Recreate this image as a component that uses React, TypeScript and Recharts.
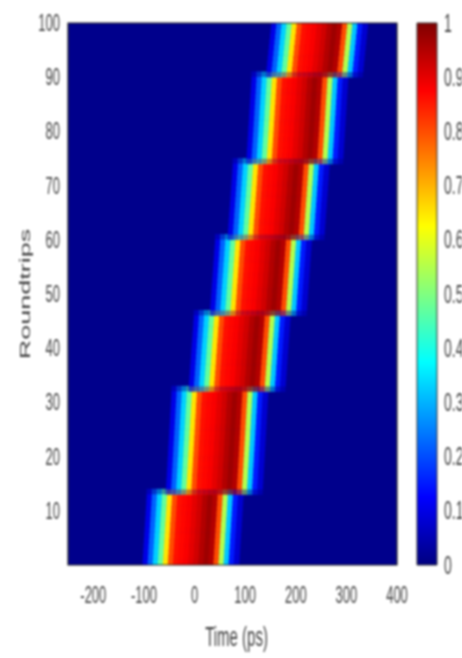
import React from 'react';
import {
  ScatterChart,
  Scatter,
  XAxis,
  YAxis,
  CartesianGrid,
  ReferenceArea,
  BarChart,
  Bar,
} from 'recharts';

// ---------- data ----------
const xTicks = [-200, -100, 0, 100, 200, 300, 400];
const yTicks = [10, 20, 30, 40, 50, 60, 70, 80, 90, 100];
const cbTicks = [0, 0.1, 0.2, 0.3, 0.4, 0.5, 0.6, 0.7, 0.8, 0.9, 1];
const xDomain = [-250, 400];
const yDomain = [0, 100];

// pulse segments: roundtrip ranges and pulse centre (ps) at the start / end of each
const segStart = [0, 13, 32, 46, 60, 74, 90];
const segEnd = [13, 32, 46, 60, 74, 90, 100];
const centerStart = [-7, 39, 84, 126, 161, 198, 237];
const centerEnd = [1, 50, 94, 136, 171, 208, 247];

// normalised intensity across the pulse (offset from centre, ps)
const profileOffset = [-90, -80, -70, -60, -50, -40, -30, -20, -10, 0, 10, 20, 30, 40, 50, 60, 70, 80, 90];
const profileValue = [0.1, 0.22, 0.33, 0.47, 0.65, 0.8, 0.86, 0.87, 0.88, 0.9, 0.92, 0.95, 0.97, 0.95, 0.8, 0.55, 0.32, 0.15, 0.08];
const DT = 10; // ps width of one cell
const DR = 1; // roundtrips per row

// ---------- build table for the library ----------
type HeatCell = { t: number; r: number; v: number; o: number };
const cells: HeatCell[] = [];
segStart.forEach((s, k) => {
  const e = segEnd[k];
  for (let i = s; i < e; i++) {
    const frac = (i - s) / Math.max(1, e - s - 1);
    const c = centerStart[k] + (centerEnd[k] - centerStart[k]) * frac;
    const boundary = k > 0 && i === s;
    if (boundary) {
      profileOffset.forEach((off, j) =>
        cells.push({ t: centerEnd[k - 1] + off, r: i + DR / 2, v: profileValue[j], o: 0.55 })
      );
    }
    profileOffset.forEach((off, j) =>
      cells.push({ t: c + off, r: i + DR / 2, v: profileValue[j], o: boundary ? 0.55 : 1 })
    );
  }
});

const cbData = [{ k: 'c', v: 1 }];

// ---------- styling ----------
const W = 462;
const H = 658;
const MARGIN = { top: 23, right: 65, bottom: 33, left: 28 };
const Y_AXIS_W = 40;
const X_AXIS_H = 60;
const PLOT_W = W - MARGIN.left - MARGIN.right - Y_AXIS_W;
const PLOT_H = H - MARGIN.top - MARGIN.bottom - X_AXIS_H;
const SY = 1.8;
const FONT = "'Liberation Sans', Arial, sans-serif";
const TEXT = '#444';
const BG = 'rgb(0,0,140)';

const clamp = (x: number) => Math.max(0, Math.min(1, x));
const jet = (v: number) => {
  const r = clamp(1.5 - Math.abs(4 * v - 3));
  const g = clamp(1.5 - Math.abs(4 * v - 2));
  const b = clamp(1.5 - Math.abs(4 * v - 1));
  return `rgb(${Math.round(r * 255)},${Math.round(g * 255)},${Math.round(b * 255)})`;
};

const CellShape = (props: any) => {
  const { cx, cy, payload, xAxis, yAxis } = props;
  if (cx == null || cy == null) return null;
  let w = (PLOT_W * DT) / (xDomain[1] - xDomain[0]);
  let h = (PLOT_H * DR) / (yDomain[1] - yDomain[0]);
  if (xAxis && typeof xAxis.scale === 'function') {
    w = Math.abs(xAxis.scale(payload.t + DT / 2) - xAxis.scale(payload.t - DT / 2)) || w;
  }
  if (yAxis && typeof yAxis.scale === 'function') {
    h = Math.abs(yAxis.scale(payload.r + DR / 2) - yAxis.scale(payload.r - DR / 2)) || h;
  }
  return (
    <rect
      x={cx - w / 2 - 0.3}
      y={cy - h / 2 - 0.3}
      width={w + 0.6}
      height={h + 0.6}
      fill={jet(payload.v)}
      fillOpacity={payload.o}
    />
  );
};

const XTick = (props: any) => {
  const { x, y, payload } = props;
  return (
    <g transform={`translate(${x},${y}) scale(1,${SY})`}>
      <text x={0} y={0} textAnchor="middle" dominantBaseline="central" fontSize={13} fontFamily={FONT} fill={TEXT}>
        {payload.value}
      </text>
    </g>
  );
};

const YTick = (props: any) => {
  const { x, y, payload } = props;
  return (
    <g transform={`translate(${x},${y}) scale(1,${SY})`}>
      <text x={0} y={0} textAnchor="end" dominantBaseline="central" fontSize={13} fontFamily={FONT} fill={TEXT}>
        {payload.value}
      </text>
    </g>
  );
};

const CbTick = (props: any) => {
  const { x, y, payload } = props;
  return (
    <g transform={`translate(${x},${y}) scale(1,${SY})`}>
      <text x={0} y={0} textAnchor="start" dominantBaseline="central" fontSize={14} fontFamily={FONT} fill={TEXT}>
        {String(payload.value)}
      </text>
    </g>
  );
};

const XLabel = (props: any) => {
  const vb = props.viewBox || { x: MARGIN.left + Y_AXIS_W, y: MARGIN.top + PLOT_H, width: PLOT_W };
  const cx = vb.x + vb.width / 2 + 4;
  const cy = vb.y + 72;
  return (
    <g transform={`translate(${cx},${cy}) scale(1,${SY})`}>
      <text x={0} y={0} textAnchor="middle" dominantBaseline="central" fontSize={15} fontFamily={FONT} fill={TEXT}>
        Time (ps)
      </text>
    </g>
  );
};

const YLabel = (props: any) => {
  const vb = props.viewBox || { x: MARGIN.left, y: MARGIN.top, height: PLOT_H };
  const cx = vb.x - 3;
  const cy = vb.y + vb.height / 2;
  return (
    <g transform={`translate(${cx},${cy}) scale(1,${SY}) rotate(-90)`}>
      <text x={0} y={0} textAnchor="middle" dominantBaseline="central" fontSize={15} fontFamily={FONT} fill={TEXT}>
        Roundtrips
      </text>
    </g>
  );
};

export default function App() {
  return (
    <div
      style={{
        position: 'absolute',
        left: 0,
        top: 0,
        width: W,
        height: H,
        background: '#fff',
        filter: 'blur(1px)',
      }}
    >
      <div style={{ position: 'absolute', left: 0, top: 0 }}>
        <ScatterChart width={W} height={H} margin={MARGIN}>
          <CartesianGrid fill={BG} fillOpacity={1} horizontal={false} vertical={false} />
          <XAxis
            type="number"
            dataKey="t"
            domain={xDomain}
            ticks={xTicks}
            allowDataOverflow
            height={X_AXIS_H}
            axisLine={false}
            tickLine={false}
            tickSize={0}
            tickMargin={30}
            tick={<XTick />}
            interval={0}
            label={{ content: (p: any) => <XLabel {...p} /> }}
          />
          <YAxis
            type="number"
            dataKey="r"
            domain={yDomain}
            ticks={yTicks}
            allowDataOverflow
            width={Y_AXIS_W}
            axisLine={false}
            tickLine={false}
            tickSize={0}
            tickMargin={8}
            tick={<YTick />}
            interval={0}
            label={{ content: (p: any) => <YLabel {...p} /> }}
          />
          <Scatter data={cells} shape={(p: any) => <CellShape {...p} />} isAnimationActive={false} />
          <ReferenceArea
            x1={xDomain[0]}
            x2={xDomain[1]}
            y1={yDomain[0]}
            y2={yDomain[1]}
            fill="none"
            stroke="#222"
            strokeWidth={1.2}
            ifOverflow="visible"
            zIndex={1000}
          />
        </ScatterChart>
      </div>
      <div style={{ position: 'absolute', left: 400, top: 0 }}>
        <BarChart
          width={62}
          height={H}
          data={cbData}
          margin={{ top: 23, right: 0, bottom: 93, left: 17 }}
          barCategoryGap={0}
        >
          <defs>
            <linearGradient id="jetGrad" x1="0" y1="1" x2="0" y2="0">
              <stop offset="0" stopColor="rgb(0,0,128)" />
              <stop offset="0.125" stopColor="rgb(0,0,255)" />
              <stop offset="0.375" stopColor="rgb(0,255,255)" />
              <stop offset="0.5" stopColor="rgb(128,255,128)" />
              <stop offset="0.625" stopColor="rgb(255,255,0)" />
              <stop offset="0.875" stopColor="rgb(255,0,0)" />
              <stop offset="1" stopColor="rgb(128,0,0)" />
            </linearGradient>
          </defs>
          <XAxis dataKey="k" type="category" hide />
          <YAxis
            orientation="right"
            type="number"
            domain={[0, 1]}
            ticks={cbTicks}
            width={25}
            axisLine={false}
            tickLine={false}
            tickSize={0}
            tickMargin={7}
            interval={0}
            tick={<CbTick />}
          />
          <Bar dataKey="v" fill="url(#jetGrad)" stroke="#333" strokeWidth={1} isAnimationActive={false} />
        </BarChart>
      </div>
    </div>
  );
}
